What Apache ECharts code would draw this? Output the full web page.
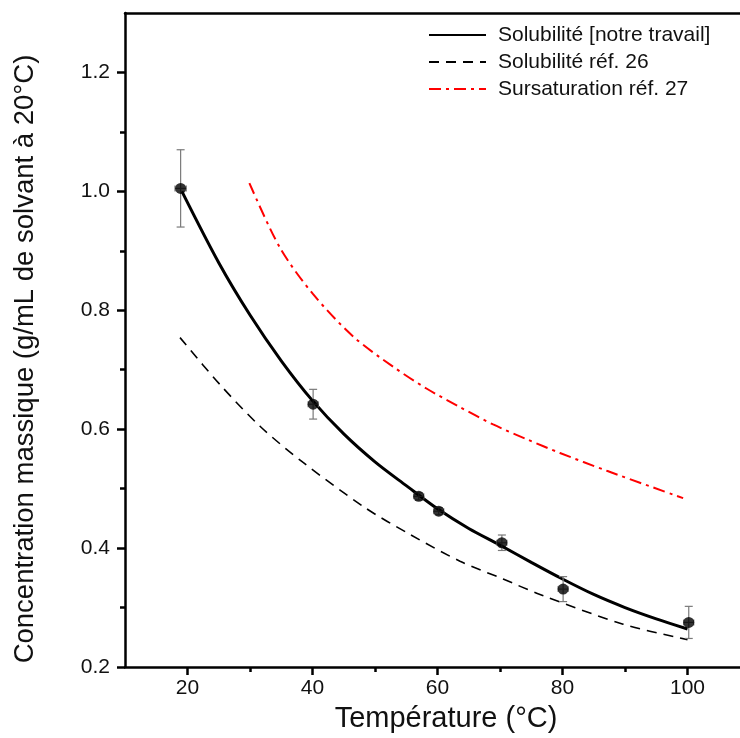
<!DOCTYPE html>
<html>
<head>
<meta charset="utf-8">
<script src="https://cdn.jsdelivr.net/npm/echarts@6/dist/echarts.min.js"></script>
<style>html,body{margin:0;padding:0;background:#fff}#c{width:740px;height:738px}</style>
</head>
<body>
<div id="c"></div>
<script>
// Experimental points
const tempPts = [18.9, 40.1, 57.0, 60.2, 70.3, 80.1, 100.2];
const concPts = [1.005, 0.642, 0.487, 0.462, 0.409, 0.331, 0.275];
const concErr = [0.065, 0.025, 0.006, 0.006, 0.013, 0.021, 0.027];
const tempErr = [0.9, 0.8, 0.8, 0.8, 0.8, 0.8, 0.8];

// Curves
const solX = [19.1, 25, 30, 35, 40, 45, 50, 55, 60, 65, 70, 75, 80, 85, 90, 95, 100];
const solY = [1.000, 0.880, 0.792, 0.715, 0.648, 0.592, 0.545, 0.505, 0.466, 0.433, 0.405, 0.376, 0.348, 0.322, 0.300, 0.281, 0.264];
const ref26X = [18.8, 25.2, 31.6, 38.5, 48.4, 55.6, 63.6, 70.5, 76.4, 89.7, 100.0];
const ref26Y = [0.754, 0.675, 0.605, 0.544, 0.468, 0.423, 0.378, 0.348, 0.322, 0.272, 0.246];
const ref27X = [29.9, 34.8, 40.1, 46.5, 52.9, 58.3, 63.6, 68.9, 74.3, 79.6, 87.1, 99.3];
const ref27Y = [1.014, 0.905, 0.827, 0.756, 0.705, 0.668, 0.637, 0.608, 0.583, 0.560, 0.530, 0.484];

// Ticks
const xMajor = [20, 40, 60, 80, 100];
const xMinor = [30, 50, 70, 90];
const yMajor = [0.2, 0.4, 0.6, 0.8, 1.0, 1.2];
const yMinor = [0.3, 0.5, 0.7, 0.9, 1.1];

const names = ['Solubilité [notre travail]', 'Solubilité réf. 26', 'Sursaturation réf. 27'];

const zip = (a, b) => a.map((v, i) => [v, b[i]]);
const FONT = 'Liberation Sans, Arial, sans-serif';
const TXT = '#111';
const AX = {lineStyle: {color: '#000', width: 2.5}};
const XMIN = 10, XMAX = 108.4;

const chart = echarts.init(document.getElementById('c'));
chart.setOption({
  animation: false,
  backgroundColor: '#fff',
  grid: {left: 125, right: 0, top: 13, bottom: 68, containLabel: false},
  legend: {
    orient: 'vertical', left: 423, top: 19, itemWidth: 57, itemHeight: 10, itemGap: 5,
    data: names,
    itemStyle: {opacity: 0},
    textStyle: {fontFamily: FONT, fontSize: 21, color: TXT, padding: [0, 0, 0, 7], lineHeight: 22}
  },
  xAxis: [
    {type: 'value', min: XMIN, max: XMAX, position: 'bottom',
     name: 'Température (°C)', nameLocation: 'middle', nameGap: 37,
     nameTextStyle: {fontFamily: FONT, fontSize: 29, color: TXT, padding: [0, 0, 0, 27]},
     axisLine: AX, splitLine: {show: false},
     axisTick: {show: true, inside: false, length: 8, lineStyle: {color: '#000', width: 2.5}, customValues: xMajor},
     axisLabel: {fontFamily: FONT, fontSize: 21, color: TXT, margin: 11, customValues: xMajor}},
    {type: 'value', min: XMIN, max: XMAX, position: 'bottom',
     axisLine: {show: false}, splitLine: {show: false}, axisLabel: {show: false},
     axisTick: {show: true, inside: false, length: 5, lineStyle: {color: '#000', width: 2.5}, customValues: xMinor}},
    {type: 'value', min: XMIN, max: XMAX, position: 'top',
     axisLine: AX, splitLine: {show: false}, axisLabel: {show: false}, axisTick: {show: false}}
  ],
  yAxis: [
    {type: 'value', min: 0.2, max: 1.3, position: 'left',
     name: 'Concentration massique (g/mL de solvant à 20°C)', nameLocation: 'middle', nameGap: 86,
     nameTextStyle: {fontFamily: FONT, fontSize: 27.5, color: TXT, padding: [0, 38, 0, 0]},
     axisLine: AX, splitLine: {show: false},
     axisTick: {show: true, inside: false, length: 8, lineStyle: {color: '#000', width: 2.5}, customValues: yMajor},
     axisLabel: {fontFamily: FONT, fontSize: 21, color: TXT, margin: 15, customValues: yMajor,
                 formatter: v => v.toFixed(1)}},
    {type: 'value', min: 0.2, max: 1.3, position: 'left',
     axisLine: {show: false}, splitLine: {show: false}, axisLabel: {show: false},
     axisTick: {show: true, inside: false, length: 5, lineStyle: {color: '#000', width: 2.5}, customValues: yMinor}}
  ],
  series: [
    {name: names[0], type: 'line', data: zip(solX, solY), smooth: 0.3, symbol: 'none',
     lineStyle: {color: '#000', width: 3}, itemStyle: {color: '#000'}, z: 3},
    {name: names[1], type: 'line', data: zip(ref26X, ref26Y), smooth: 0.3, symbol: 'none',
     lineStyle: {color: '#000', width: 1.6, type: [10, 7]}, itemStyle: {color: '#000'}, z: 3},
    {name: names[2], type: 'line', data: zip(ref27X, ref27Y), smooth: 0.3, symbol: 'none',
     lineStyle: {color: '#ff0000', width: 2, type: [12, 5, 3, 5]}, itemStyle: {color: '#ff0000'}, z: 3},
    {type: 'custom', z: 4,
     data: tempPts.map((t, i) => [t, concPts[i], tempErr[i], concErr[i]]),
     renderItem: (params, api) => {
       const x = api.value(0), y = api.value(1), ex = api.value(2), ey = api.value(3);
       const top = api.coord([x, y + ey]), bot = api.coord([x, y - ey]);
       const lft = api.coord([x - ex, y]), rgt = api.coord([x + ex, y]);
       const st = {stroke: '#7a7a7a', lineWidth: 1.2};
       const cw = 4, ch = 3;
       return {type: 'group', children: [
         {type: 'line', shape: {x1: top[0], y1: top[1], x2: bot[0], y2: bot[1]}, style: st},
         {type: 'line', shape: {x1: top[0] - cw, y1: top[1], x2: top[0] + cw, y2: top[1]}, style: st},
         {type: 'line', shape: {x1: bot[0] - cw, y1: bot[1], x2: bot[0] + cw, y2: bot[1]}, style: st},
         {type: 'line', shape: {x1: lft[0], y1: lft[1], x2: rgt[0], y2: rgt[1]}, style: st},
         {type: 'line', shape: {x1: lft[0], y1: lft[1] - ch, x2: lft[0], y2: lft[1] + ch}, style: st},
         {type: 'line', shape: {x1: rgt[0], y1: rgt[1] - ch, x2: rgt[0], y2: rgt[1] + ch}, style: st}
       ]};
     }},
    {type: 'scatter', data: zip(tempPts, concPts), symbol: 'circle', symbolSize: 11,
     itemStyle: {color: '#000'}, z: 5}
  ]
});
</script>
</body>
</html>
